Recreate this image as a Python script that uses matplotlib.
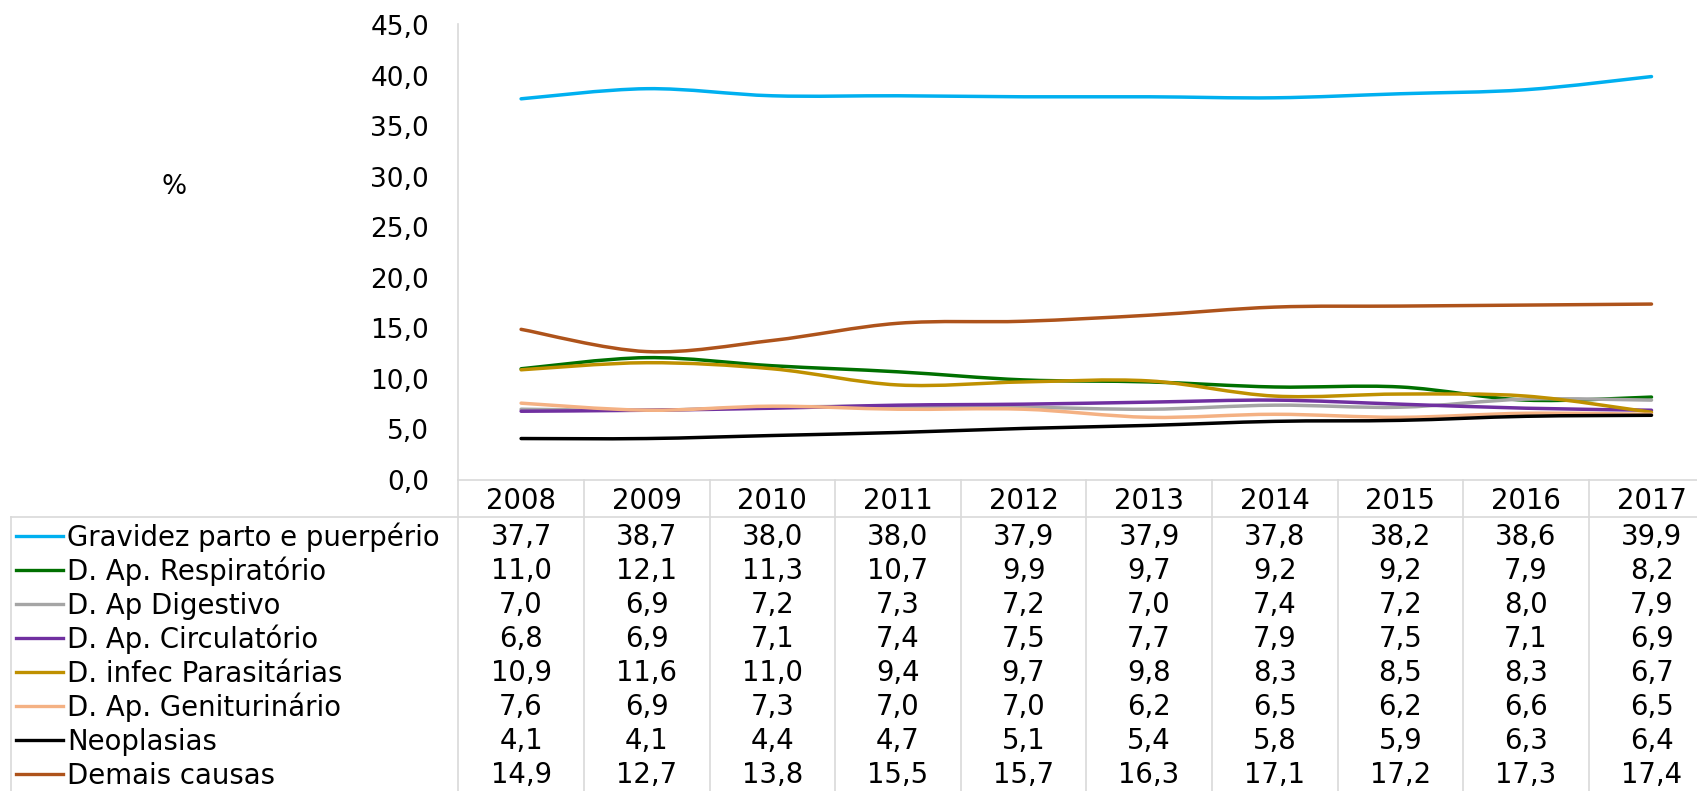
import matplotlib
matplotlib.use("Agg")
import matplotlib.pyplot as plt
from matplotlib.path import Path
from matplotlib.patches import PathPatch
from matplotlib.lines import Line2D
import matplotlib.transforms as mtransforms

years = ["2008", "2009", "2010", "2011", "2012", "2013", "2014", "2015", "2016", "2017"]
series_names = ["Gravidez parto e puerpério", "D. Ap. Respiratório", "D. Ap Digestivo",
                "D. Ap. Circulatório", "D. infec Parasitárias", "D. Ap. Geniturinário",
                "Neoplasias", "Demais causas"]
gravidez = [37.7, 38.7, 38.0, 38.0, 37.9, 37.9, 37.8, 38.2, 38.6, 39.9]
respiratorio = [11.0, 12.1, 11.3, 10.7, 9.9, 9.7, 9.2, 9.2, 7.9, 8.2]
digestivo = [7.0, 6.9, 7.2, 7.3, 7.2, 7.0, 7.4, 7.2, 8.0, 7.9]
circulatorio = [6.8, 6.9, 7.1, 7.4, 7.5, 7.7, 7.9, 7.5, 7.1, 6.9]
infec = [10.9, 11.6, 11.0, 9.4, 9.7, 9.8, 8.3, 8.5, 8.3, 6.7]
geniturinario = [7.6, 6.9, 7.3, 7.0, 7.0, 6.2, 6.5, 6.2, 6.6, 6.5]
neoplasias = [4.1, 4.1, 4.4, 4.7, 5.1, 5.4, 5.8, 5.9, 6.3, 6.4]
demais = [14.9, 12.7, 13.8, 15.5, 15.7, 16.3, 17.1, 17.2, 17.3, 17.4]
yticks = [0, 5, 10, 15, 20, 25, 30, 35, 40, 45]

all_series = [gravidez, respiratorio, digestivo, circulatorio, infec, geniturinario, neoplasias, demais]
colors = ["#00B0F0", "#007000", "#A5A5A5", "#7030A0", "#BF9000", "#F4B183", "#000000", "#AE531B"]

W, H = 1697, 791
FS = 19.8
GRID = "#D9D9D9"
plt.rcParams['font.family'] = ['DejaVu Sans']

fig = plt.figure(figsize=(W / 100, H / 100), dpi=100)

def fx(x):
    return x / W

def fy(y):
    return 1 - y / H

ax_left, ax_right, ax_top, ax_bot = 458.3, 1714.3, 25.0, 480.0
ax = fig.add_axes([fx(ax_left), fy(ax_bot), (ax_right - ax_left) / W, (ax_bot - ax_top) / H])
ax.set_xlim(-0.5, len(years) - 0.5)
ax.set_ylim(0, 45)
for s in ax.spines.values():
    s.set_visible(False)
ax.set_xticks([])
ax.set_yticks(yticks)
ax.set_yticklabels([f"{v:.1f}".replace(".", ",") for v in yticks], fontsize=FS - 0.8)
ax.tick_params(axis="y", length=0, pad=21)
ax.patch.set_visible(False)


def smooth_path(xs, ys):
    # cubic Bezier segments (Excel-like smoothing) through the data points
    pts = list(zip(xs, ys))
    n = len(pts)
    verts = [pts[0]]
    codes = [Path.MOVETO]
    for i in range(n - 1):
        p0 = pts[i - 1] if i > 0 else pts[i]
        p1 = pts[i]
        p2 = pts[i + 1]
        p3 = pts[i + 2] if i + 2 < n else pts[i + 1]
        c1 = (p1[0] + (p2[0] - p0[0]) / 6, p1[1] + (p2[1] - p0[1]) / 6)
        c2 = (p2[0] - (p3[0] - p1[0]) / 6, p2[1] - (p3[1] - p1[1]) / 6)
        verts += [c1, c2, p2]
        codes += [Path.CURVE4] * 3
    return Path(verts, codes)


xs = list(range(len(years)))
for vals, c in zip(all_series, colors):
    patch = PathPatch(smooth_path(xs, vals), facecolor="none", edgecolor=c, lw=2.5,
                      capstyle="round", joinstyle="round", clip_on=False)
    ax.add_patch(patch)

# "%" label
fig.text(fx(174), fy(187), "%", fontsize=FS - 0.8, ha="center", va="center")

# Data table
blend = mtransforms.blended_transform_factory(ax.transData, fig.transFigure)

def hline(y, x0, x1):
    fig.add_artist(Line2D([fx(x0), fx(x1)], [fy(y), fy(y)], color=GRID, lw=1.2,
                          transform=fig.transFigure))

# vertical axis line and column separators
for i in range(len(years) + 1):
    top = ax_top - 1 if i == 0 else ax_bot
    fig.add_artist(Line2D([i - 0.5, i - 0.5], [fy(top), fy(H + 5)], color=GRID, lw=1.2,
                          transform=blend))
hline(ax_bot, ax_left, W + 20)
hline(517.3, 11, W + 20)
fig.add_artist(Line2D([fx(11), fx(11)], [fy(517.3), fy(H + 5)], color=GRID, lw=1.2,
                      transform=fig.transFigure))

# header
for i, yr in enumerate(years):
    fig.text(i, fy(508.5), yr, fontsize=FS, ha="center", va="baseline", transform=blend)

row0, pitch = 545.5, 34.0
for r, (name, vals, c) in enumerate(zip(series_names, all_series, colors)):
    base = row0 + pitch * r
    center = base - 9.5
    fig.add_artist(Line2D([fx(16), fx(63)], [fy(center), fy(center)], color=c, lw=2.4,
                          transform=fig.transFigure))
    fig.text(fx(67), fy(base), name, fontsize=FS, ha="left", va="baseline")
    for i, v in enumerate(vals):
        fig.text(i, fy(base), f"{v:.1f}".replace(".", ","), fontsize=FS, ha="center",
                 va="baseline", transform=blend)

fig.savefig("out.png", dpi=100)
